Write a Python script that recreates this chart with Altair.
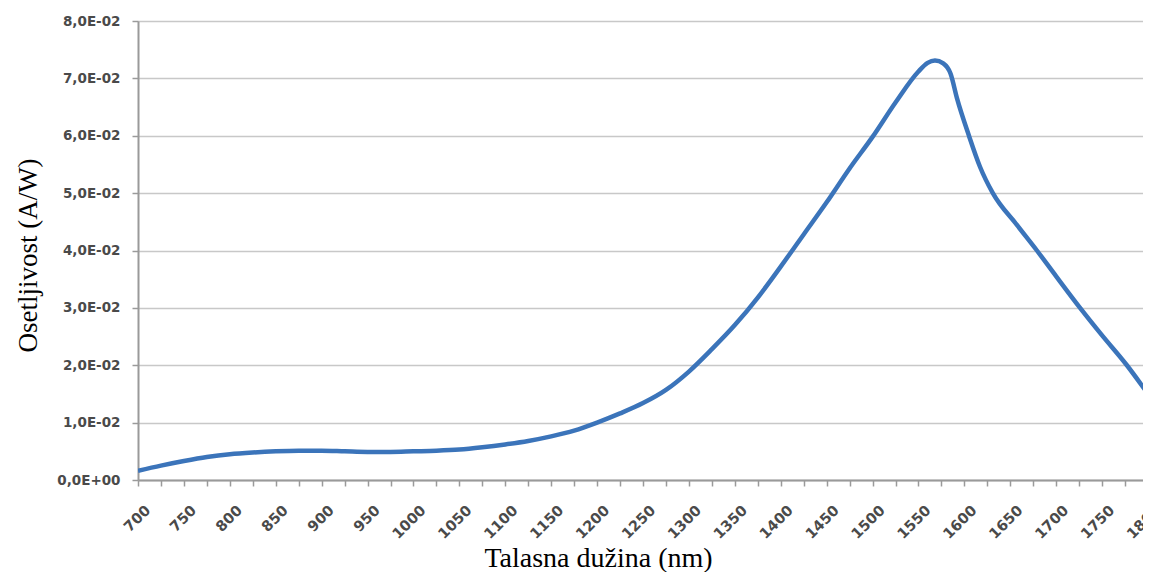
import altair as alt
import pandas as pd

wavelength = [700, 725, 750, 775, 800, 825, 850, 875, 900, 925, 950, 975, 1000,
              1025, 1050, 1075, 1100, 1125, 1150, 1175, 1200, 1225, 1250, 1275,
              1300, 1325, 1350, 1375, 1400, 1425, 1450, 1475, 1500, 1525, 1550,
              1560, 1568, 1577, 1585, 1592, 1605, 1617, 1631, 1657, 1679, 1700,
              1726, 1750, 1777, 1800]
responsivity = [0.0016, 0.0025, 0.0033, 0.0040, 0.0045, 0.0048, 0.0050, 0.0051,
                0.0051, 0.0050, 0.0049, 0.0049, 0.0050, 0.0051, 0.0053, 0.0057,
                0.0062, 0.0068, 0.0076, 0.0086, 0.0100, 0.0116, 0.0134, 0.0157,
                0.0189, 0.0228, 0.0270, 0.0318, 0.0372, 0.0428, 0.0484, 0.0543,
                0.0598, 0.0658, 0.0712, 0.0727, 0.0731, 0.0726, 0.0708, 0.0665,
                0.0600, 0.0546, 0.0500, 0.0445, 0.0400, 0.0355, 0.0300, 0.0252,
                0.0200, 0.0150]

x_ticks = list(range(700, 1801, 25))
y_ticks = [0, 0.01, 0.02, 0.03, 0.04, 0.05, 0.06, 0.07, 0.08]

df = pd.DataFrame({"nm": wavelength, "r": responsivity})

label_font = "DejaVu Sans"
label_color = "#4a4a4a"

chart = alt.Chart(df).mark_line(
    color="#3b74ba", strokeWidth=4.5, interpolate="monotone", clip=True
).encode(
    x=alt.X("nm:Q",
            scale=alt.Scale(domain=[700, 1800], nice=False, zero=False),
            axis=alt.Axis(
                title="Talasna dužina (nm)",
                values=x_ticks,
                labelExpr="datum.value % 50 == 0 ? datum.label : ''",
                format="d",
                labelAngle=-45, labelAlign="right", labelBaseline="top",
                labelOffset=5, labelPadding=17,
                labelFont=label_font, labelFontSize=14.5, labelFontWeight="bold",
                labelColor=label_color, labelOverlap=False, labelFlush=False,
                grid=False, tickSize=6, tickColor="#9a9a9a", tickWidth=1.5,
                domainColor="#9a9a9a", domainWidth=2,
                titleFont="Liberation Serif", titleFontSize=28,
                titleFontWeight="normal", titleColor="#000000",
                titleX=460, titleY=86, titleAlign="center",
                titleBaseline="alphabetic", titleAnchor="middle")),
    y=alt.Y("r:Q",
            scale=alt.Scale(domain=[0, 0.08], nice=False),
            axis=alt.Axis(
                title="Osetljivost (A/W)",
                values=y_ticks,
                labelExpr="datum.value == 0 ? '0,0E+00' : replace(format(datum.value * 100, '.1f'), '.', ',') + 'E-02'",
                labelFont=label_font, labelFontSize=13.5, labelFontWeight="bold",
                labelColor=label_color, labelPadding=12, labelBaseline="middle",
                grid=True, gridColor="#c8c8c8", gridWidth=1.5,
                tickSize=6, tickColor="#9a9a9a", tickWidth=1.5,
                domainColor="#9a9a9a", domainWidth=2,
                titleFont="Liberation Serif", titleFontSize=27,
                titleFontWeight="normal", titleColor="#000000",
                titleAngle=270, titleX=-110, titleY=234,
                titleAlign="center", titleBaseline="middle"))
).properties(
    width=1010, height=459,
    autosize=alt.AutoSizeParams(type="none"),
    padding={"left": 130, "top": 13, "right": -5, "bottom": 92},
).configure_view(stroke=None).configure(background="white")

chart.save("out.html", embed_options={"renderer": "svg", "actions": False})
